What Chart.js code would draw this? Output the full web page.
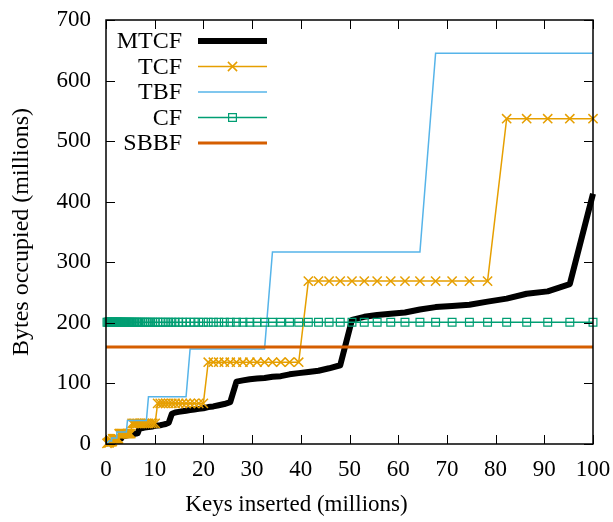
<!DOCTYPE html>
<html>
<head>
<meta charset="utf-8">
<script src="https://cdn.jsdelivr.net/npm/chart.js@4.4.0/dist/chart.umd.min.js"></script>
<style>
  body { margin: 0; background: #fff; }
</style>
</head>
<body>
<canvas id="c" width="613" height="522"></canvas>
<script>
// keys inserted (millions), one entry per measured point
const keys = [
  0.2, 0.4,
  0.59, 0.62, 0.66, 0.69, 0.72, 0.76, 0.80, 0.84, 0.88, 0.92,
  0.97, 1.02, 1.07, 1.12, 1.18, 1.24, 1.30, 1.37, 1.43, 1.51,
  1.58, 1.66, 1.74, 1.83, 1.92, 2.02, 2.12, 2.23, 2.34, 2.45,
  2.58, 2.70, 2.84, 2.98, 3.13, 3.29, 3.45, 3.62, 3.80, 3.99,
  4.19, 4.40, 4.62, 4.86, 5.10, 5.35, 5.62, 5.90, 6.20, 6.51,
  6.83, 7.17, 7.53, 7.91, 8.30, 8.72, 9.16, 9.61, 10.09, 10.60,
  11.13, 11.69, 12.27, 12.88, 13.53, 14.20, 14.92, 15.66, 16.44, 17.27,
  18.13, 19.04, 19.99, 20.99, 22.04, 23.14, 24.29, 25.51, 26.79, 28.12,
  29.53, 31.01, 32.56, 34.18, 35.89, 37.69, 39.57, 41.55, 43.63, 45.81,
  48.10, 50.51, 53.03, 55.68, 58.47, 61.39, 64.46, 67.68, 71.07, 74.62,
  78.35, 82.27, 86.38, 90.70, 95.24, 100
];

// bytes occupied (millions)
const mtcf = [
  0.8, 1.0,
  1.5, 1.6, 1.7, 1.8, 1.9, 2.0, 2.1, 3.1, 3.2, 3.3,
  3.4, 3.5, 3.6, 3.7, 3.8, 3.9, 4.0, 4.1, 4.2, 4.3,
  4.5, 6.2, 6.4, 6.5, 6.7, 6.9, 7.1, 7.3, 7.5, 7.7,
  7.9, 8.1, 8.3, 8.5, 8.9, 12.5, 12.8, 13.0, 13.3, 13.6,
  14.0, 14.3, 14.7, 15.0, 15.4, 15.8, 16.2, 16.7, 17.2, 18.0,
  25, 26, 26.5, 27, 27.5, 28, 28.5, 29, 30, 30.5,
  31, 32, 33, 35, 50, 52, 53, 54, 55, 56,
  57, 58, 59, 61, 62, 64, 66, 69, 103, 105,
  107, 108, 109, 111, 112, 115, 117, 119, 121, 125,
  130, 205, 210, 213, 215, 217, 222, 226, 228, 230,
  235, 240, 248, 252, 264, 413
];

const tcf = [
  1.05, 2.1,
  2.1, 2.1, 2.1, 4.2, 4.2, 4.2, 4.2, 4.2, 4.2, 4.2,
  4.2, 4.2, 4.2, 4.2, 4.2, 4.2, 4.2, 8.4, 8.4, 8.4,
  8.4, 8.4, 8.4, 8.4, 8.4, 8.4, 8.4, 8.4, 8.4, 8.4,
  8.4, 17, 17, 17, 17, 17, 17, 17, 17, 17,
  17, 17, 17, 17, 17, 34, 34, 34, 34, 34,
  34, 34, 34, 34, 34, 34, 34, 34, 34, 67,
  67, 67, 67, 67, 67, 67, 67, 67, 67, 67,
  67, 67, 67, 135, 135, 135, 135, 135, 135, 135,
  135, 135, 135, 135, 135, 135, 135, 269, 269, 269,
  269, 269, 269, 269, 269, 269, 269, 269, 269, 269,
  269, 537, 537, 537, 537, 537
];

const tbf = [
  2.5, 2.5,
  5, 5, 5, 5, 5, 5, 5, 5, 5, 5,
  5, 5, 5, 10, 10, 10, 10, 10, 10, 10,
  10, 10, 10, 10, 10, 10, 10, 20, 20, 20,
  20, 20, 20, 20, 20, 20, 20, 20, 20, 20,
  20, 39, 39, 39, 39, 39, 39, 39, 39, 39,
  39, 39, 39, 39, 39, 78, 78, 78, 78, 78,
  78, 78, 78, 78, 78, 78, 78, 78, 78, 157,
  157, 157, 157, 157, 157, 157, 157, 157, 157, 157,
  157, 157, 157, 317, 317, 317, 317, 317, 317, 317,
  317, 317, 317, 317, 317, 317, 317, 645, 645, 645,
  645, 645, 645, 645, 645, 645
];

const cf = [
  201, 201,
  201, 201, 201, 201, 201, 201, 201, 201, 201, 201,
  201, 201, 201, 201, 201, 201, 201, 201, 201, 201,
  201, 201, 201, 201, 201, 201, 201, 201, 201, 201,
  201, 201, 201, 201, 201, 201, 201, 201, 201, 201,
  201, 201, 201, 201, 201, 201, 201, 201, 201, 201,
  201, 201, 201, 201, 201, 201, 201, 201, 201, 201,
  201, 201, 201, 201, 201, 201, 201, 201, 201, 201,
  201, 201, 201, 201, 201, 201, 201, 201, 201, 201,
  201, 201, 201, 201, 201, 201, 201, 201, 201, 201,
  201, 201, 201, 201, 201, 201, 201, 201, 201, 201,
  201, 201, 201, 201, 201, 201
];

const sbbfKeys = [0, 100];
const sbbf = [160, 160];

const xTicks = [0, 10, 20, 30, 40, 50, 60, 70, 80, 90, 100];
const yTicks = [0, 100, 200, 300, 400, 500, 600, 700];

const FONT = "'Liberation Serif', 'Times New Roman', serif";

const toPoints = (xs, ys) => xs.map((x, i) => ({ x: x, y: ys[i] }));

// gnuplot style box: frame plus inward ticks on all four sides
const framePlugin = {
  id: "frame",
  afterDatasetsDraw(chart) {
    const { ctx, chartArea: a, scales } = chart;
    ctx.save();
    ctx.strokeStyle = "#000";
    ctx.lineWidth = 1.5;
    ctx.strokeRect(a.left, a.top, a.right - a.left, a.bottom - a.top);
    ctx.lineWidth = 1;
    const len = 9;
    ctx.beginPath();
    xTicks.forEach((v) => {
      const px = Math.round(scales.x.getPixelForValue(v)) + 0.5;
      ctx.moveTo(px, a.bottom); ctx.lineTo(px, a.bottom - len);
      ctx.moveTo(px, a.top); ctx.lineTo(px, a.top + len);
    });
    yTicks.forEach((v) => {
      const py = Math.round(scales.y.getPixelForValue(v)) + 0.5;
      ctx.moveTo(a.left, py); ctx.lineTo(a.left + len, py);
      ctx.moveTo(a.right, py); ctx.lineTo(a.right - len, py);
    });
    ctx.stroke();
    ctx.restore();
  },
};

// key in the top-left corner: label right aligned, sample to its right
const keyPlugin = {
  id: "key",
  afterDraw(chart) {
    const { ctx, chartArea: a } = chart;
    const textRight = a.left + 76;
    const x0 = a.left + 92;
    const x1 = a.left + 161;
    ctx.save();
    ctx.font = "24px " + FONT;
    ctx.textAlign = "right";
    ctx.textBaseline = "middle";
    chart.data.datasets.forEach((ds, i) => {
      const y = a.top + 21 + i * 25.5;
      ctx.fillStyle = "#000";
      ctx.fillText(ds.label, textRight, y + 1);
      ctx.strokeStyle = ds.borderColor;
      ctx.lineWidth = ds.borderWidth;
      ctx.beginPath();
      ctx.moveTo(x0, y);
      ctx.lineTo(x1, y);
      ctx.stroke();
      if (ds.pointRadius > 0) {
        ctx.fillStyle = "rgba(0,0,0,0)";
        ctx.strokeStyle = ds.pointBorderColor;
        ctx.lineWidth = ds.pointBorderWidth;
        Chart.helpers.drawPoint(ctx, {
          pointStyle: ds.pointStyle,
          radius: ds.pointRadius,
          borderWidth: ds.pointBorderWidth,
          rotation: 0,
        }, (x0 + x1) / 2, y);
      }
    });
    ctx.restore();
  },
};

new Chart(document.getElementById("c"), {
  type: "line",
  data: {
    datasets: [
      {
        label: "MTCF",
        data: toPoints(keys, mtcf),
        borderColor: "#000000",
        borderWidth: 6,
        borderJoinStyle: "round",
        pointRadius: 0,
        order: 5,
      },
      {
        label: "TCF",
        data: toPoints(keys, tcf),
        borderColor: "#e69f00",
        borderWidth: 1.5,
        pointStyle: "crossRot",
        pointRadius: 6.5,
        pointBorderColor: "#e69f00",
        pointBorderWidth: 1.5,
        order: 4,
      },
      {
        label: "TBF",
        data: toPoints(keys, tbf),
        borderColor: "#56b4e9",
        borderWidth: 1.5,
        pointRadius: 0,
        order: 3,
      },
      {
        label: "CF",
        data: toPoints(keys, cf),
        borderColor: "#009e73",
        borderWidth: 1.5,
        pointStyle: "rect",
        pointRadius: 5.5,
        pointBorderColor: "#009e73",
        pointBackgroundColor: "rgba(0,0,0,0)",
        pointBorderWidth: 1.2,
        order: 2,
      },
      {
        label: "SBBF",
        data: toPoints(sbbfKeys, sbbf),
        borderColor: "#d55e00",
        borderWidth: 3,
        pointRadius: 0,
        order: 1,
      },
    ],
  },
  options: {
    responsive: false,
    animation: false,
    events: [],
    clip: false,
    layout: { padding: { top: 20, right: 20, left: 0, bottom: 0 } },
    elements: { line: { tension: 0 } },
    plugins: {
      legend: { display: false },
      tooltip: { enabled: false },
      title: {
        display: true,
        position: "bottom",
        text: "Keys inserted (millions)",
        color: "#000",
        font: { family: FONT, size: 23, weight: "normal" },
        padding: { top: 0, bottom: 3 },
      },
    },
    scales: {
      x: {
        type: "linear",
        min: 0,
        max: 100,
        afterBuildTicks: (scale) => {
          scale.ticks = xTicks.map((v) => ({ value: v }));
        },
        afterFit: (scale) => {
          scale.height = 78 - 30.6;
          scale.paddingLeft = 0;
          scale.paddingRight = 0;
        },
        grid: { display: false, drawTicks: false },
        border: { display: false },
        ticks: {
          color: "#000",
          padding: 12,
          maxRotation: 0,
          font: { family: FONT, size: 23 },
        },
      },
      y: {
        min: 0,
        max: 700,
        afterBuildTicks: (scale) => {
          scale.ticks = yTicks.map((v) => ({ value: v }));
        },
        afterFit: (scale) => {
          scale.width = 106;
          scale.paddingTop = 0;
          scale.paddingBottom = 0;
        },
        grid: { display: false, drawTicks: false },
        border: { display: false },
        title: {
          display: true,
          text: "Bytes occupied (millions)",
          color: "#000",
          font: { family: FONT, size: 24 },
          padding: { top: 7, bottom: 0 },
        },
        ticks: {
          color: "#000",
          padding: 15,
          font: { family: FONT, size: 23 },
        },
      },
    },
  },
  plugins: [framePlugin, keyPlugin],
});
</script>
</body>
</html>
